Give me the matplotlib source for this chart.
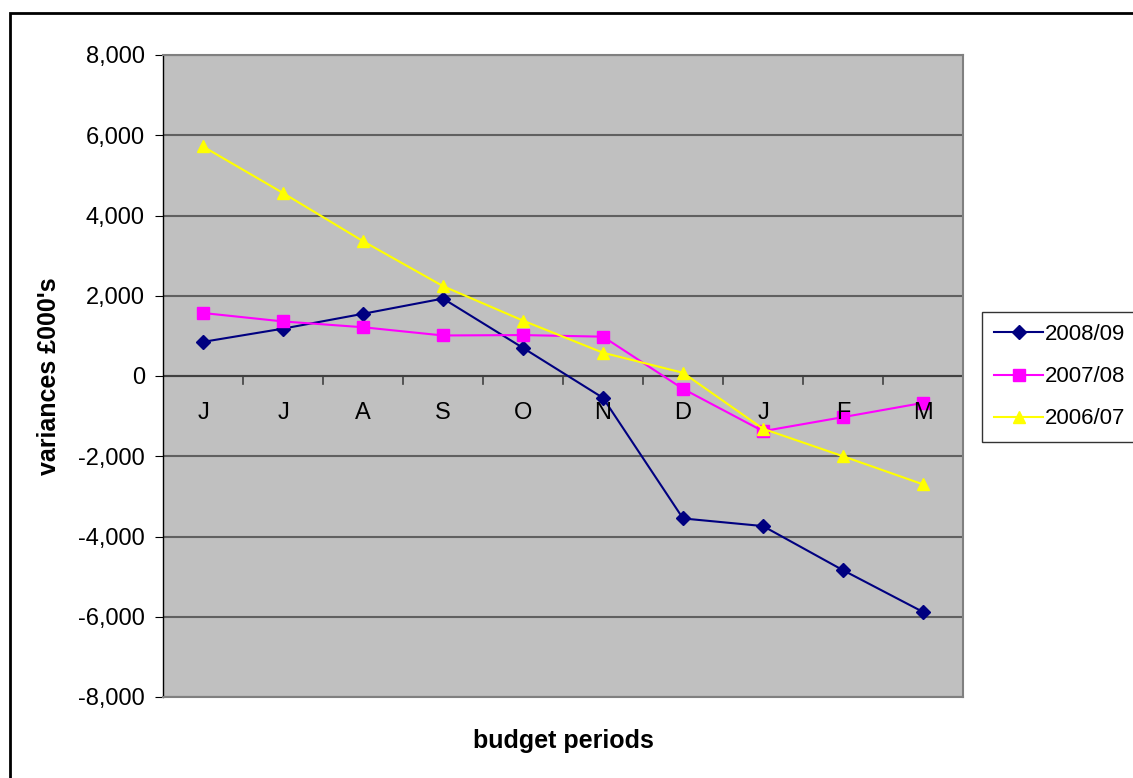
import matplotlib.pyplot as plt
from matplotlib.patches import Rectangle
from matplotlib.ticker import FuncFormatter

plt.rcParams['font.family'] = ['Liberation Sans', 'DejaVu Sans']

months = ['J', 'J', 'A', 'S', 'O', 'N', 'D', 'J', 'F', 'M']
v0809 = [850, 1180, 1550, 1930, 700, -545, -3550, -3740, -4840, -5880]
v0708 = [1570, 1360, 1215, 1010, 1020, 980, -320, -1375, -1025, -670]
v0607 = [5720, 4560, 3360, 2240, 1380, 580, 80, -1315, -2000, -2700]

fig = plt.figure(figsize=(11.33, 7.78), dpi=100)
ax = fig.add_axes([163 / 1133, 1 - 697 / 778, 800 / 1133, 642 / 778])
ax.set_facecolor('#c0c0c0')

# outer chart frame
fig.patches.append(Rectangle((10 / 1133, -0.05), 1.1, 1 - 13 / 778 + 0.05,
                             transform=fig.transFigure, fill=False,
                             edgecolor='black', linewidth=2))

x = range(len(months))
ax.plot(x, v0809, color='#000080', marker='D', markersize=7, linewidth=1.5,
        label='2008/09', zorder=3)
ax.plot(x, v0708, color='#ff00ff', marker='s', markersize=8, linewidth=1.5,
        label='2007/08', zorder=3)
ax.plot(x, v0607, color='#ffff00', marker='^', markersize=9, linewidth=1.5,
        label='2006/07', zorder=3)

ax.set_xlim(-0.5, len(months) - 0.5)
ax.set_ylim(-8000, 8000)
ax.set_yticks(range(-8000, 8001, 2000))
ax.yaxis.set_major_formatter(FuncFormatter(lambda v, p: f'{int(v):,}'))
ax.grid(axis='y', color='#606060', linewidth=1.5)
ax.set_axisbelow(True)

for s in ax.spines.values():
    s.set_color('#808080')
    s.set_linewidth(1.5)
ax.spines['left'].set_color('black')
ax.spines['left'].set_linewidth(1)

ax.tick_params(axis='y', labelsize=17, length=6, direction='out', pad=7)

# category axis sits on the zero line
ax.set_xticks([])
ax.axhline(0, color='#404040', linewidth=1.5, zorder=2)
for i in range(1, len(months)):
    ax.plot([i - 0.5, i - 0.5], [0, -200], color='#404040', linewidth=1.2, zorder=2)
for i, m in enumerate(months):
    ax.text(i, -910, m, ha='center', va='center', fontsize=17)

ax.set_ylabel("variances £000's", fontsize=18, fontweight='bold', labelpad=12)
fig.text(563 / 1133, 1 - 741 / 778, 'budget periods', ha='center', va='center',
         fontsize=18, fontweight='bold')

leg = fig.legend(loc='upper left', bbox_to_anchor=(982 / 1133, 1 - 312 / 778),
                 fontsize=16, frameon=True, fancybox=False, edgecolor='black',
                 borderpad=0.55, labelspacing=0.95, handlelength=2.2,
                 handletextpad=0.1, borderaxespad=0)
leg.get_frame().set_linewidth(1)

fig.savefig('out.png', dpi=100)
